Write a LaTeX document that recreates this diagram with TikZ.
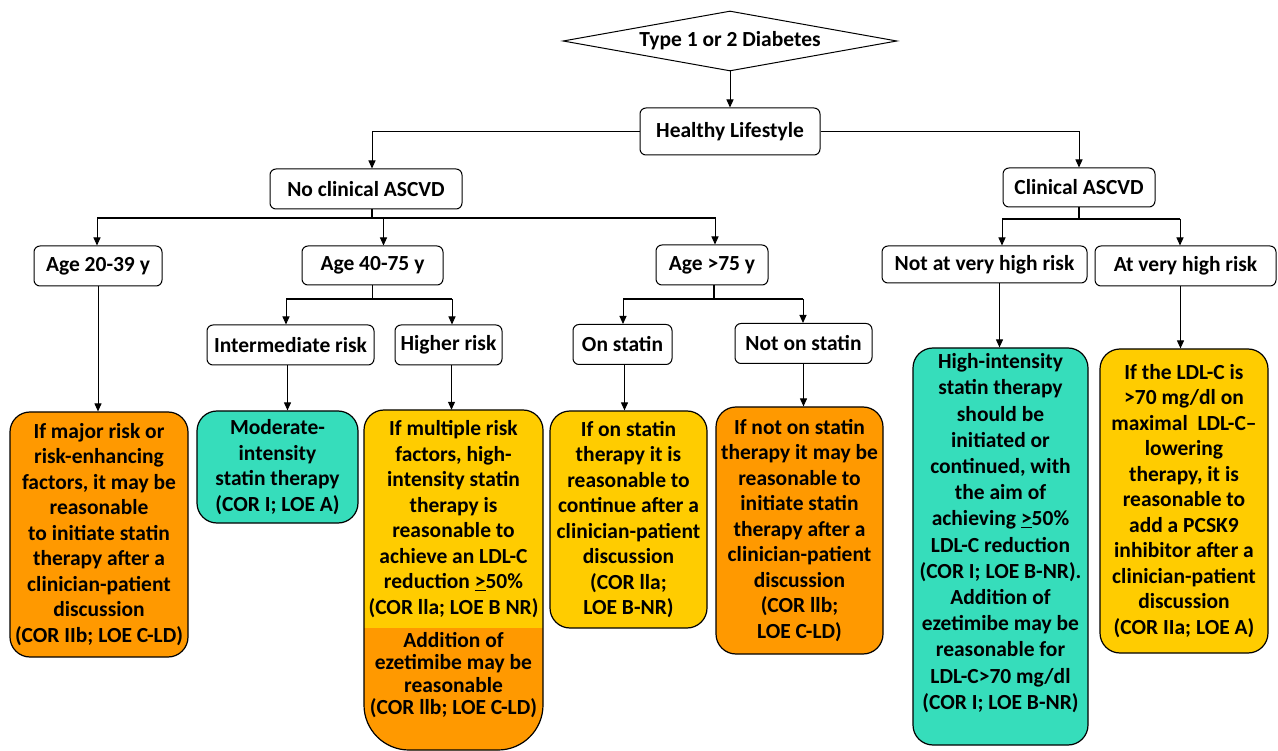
\documentclass[tikz,border=0pt]{standalone}
\usepackage{fontspec}
\setmainfont{Carlito}
\usetikzlibrary{shapes.geometric,arrows.meta}
\definecolor{orangebox}{RGB}{255,153,0}
\definecolor{yellowbox}{RGB}{255,204,0}
\definecolor{tealbox}{RGB}{54,221,187}

\begin{document}
\begin{tikzpicture}[x=1pt, y=-1pt,
  every node/.style={font=\fontsize{21.5}{25.5}\selectfont\bfseries},
  label box/.style={draw, rounded corners=6pt, line width=1pt, inner sep=0pt, minimum height=40pt},
  advice/.style={draw, rounded corners=20pt, line width=1.2pt, inner sep=0pt, align=center},
  arr/.style={-{Triangle[length=8pt,width=7pt]}, line width=1pt},
  bus/.style={line width=1.8pt}]

\useasboundingbox (0,0) rectangle (1278,751);

% Start
\node[draw, diamond, aspect=5.5, minimum width=334pt, minimum height=60pt, inner sep=0pt, line width=1pt] (diab) at (730,41) {Type 1 or 2 Diabetes};
\node[label box, minimum width=180pt, minimum height=47pt] (healthy) at (730,131.5) {Healthy Lifestyle};

% ASCVD split
\node[label box, minimum width=192pt] (noclin) at (366,189) {No clinical ASCVD};
\node[label box, minimum width=152pt, minimum height=39pt] (clin) at (1079,187.5) {Clinical ASCVD};

% Age groups and risk levels
\node[label box, minimum width=128pt] (agey) at (98,266) {Age 20-39 y};
\node[label box, minimum width=141pt, minimum height=39pt] (agem) at (372.5,265.5) {Age 40-75 y};
\node[label box, minimum width=112pt] (ageo) at (712,265) {Age >75 y};
\node[label box, minimum width=205pt, minimum height=37pt] (notvh) at (984.5,264.5) {Not at very high risk};
\node[label box, minimum width=181pt] (vh) at (1185.5,266) {At very high risk};

\node[label box, minimum width=167pt] (inter) at (290.5,345) {Intermediate risk};
\node[label box, minimum width=107pt] (higher) at (448.5,345) {Higher risk};
\node[label box, minimum width=99pt] (onst) at (622.5,344.5) {On statin};
\node[label box, minimum width=137pt] (notst) at (803.5,343.5) {Not on statin};

% Recommendations
\node[advice, fill=orangebox, minimum width=178pt, minimum height=245pt] (adv1) at (99,534.5)
  {If major risk or\\risk-enhancing\\factors, it may be\\reasonable\\to initiate statin\\therapy after a\\clinician-patient\\discussion\\(COR IIb; LOE C-LD)};
\node[advice, fill=tealbox, minimum width=161pt, minimum height=112pt] (adv2) at (277.5,467)
  {Moderate-\\intensity\\statin therapy\\(COR I; LOE A)};

% higher risk: two-part box
\fill[yellowbox] (364,430) arc[start angle=180, end angle=270, radius=20] -- (523,410)
  arc[start angle=270, end angle=360, radius=20] -- (543,705)
  arc[start angle=0, end angle=90, radius=45] -- (409,750)
  arc[start angle=90, end angle=180, radius=45] -- cycle;
\begin{scope}
\clip (364,430) arc[start angle=180, end angle=270, radius=20] -- (523,410)
  arc[start angle=270, end angle=360, radius=20] -- (543,705)
  arc[start angle=0, end angle=90, radius=45] -- (409,750)
  arc[start angle=90, end angle=180, radius=45] -- cycle;
\fill[orangebox] (364,628) rectangle (543,751);
\end{scope}
\draw[line width=1.2pt] (364,430) arc[start angle=180, end angle=270, radius=20] -- (523,410)
  arc[start angle=270, end angle=360, radius=20] -- (543,705)
  arc[start angle=0, end angle=90, radius=45] -- (409,750)
  arc[start angle=90, end angle=180, radius=45] -- cycle;
\node[align=center, minimum width=179pt, minimum height=218pt, inner sep=0pt] (adv3) at (453.5,519)
  {If multiple risk\\factors, high-\\intensity statin\\therapy is\\reasonable to\\achieve an LDL-C\\reduction \underline{>}50\%\\(COR lla; LOE B NR)};
\node[align=center, inner sep=0pt, font=\fontsize{21.5}{22.5}\selectfont\bfseries] (adv3b) at (453.5,675)
  {Addition of\\ezetimibe may be\\reasonable\\(COR llb; LOE C-LD)};

\node[advice, fill=yellowbox, minimum width=157pt, minimum height=217pt] (adv4) at (628.5,519.5)
  {If on statin\\therapy it is\\reasonable to\\continue after a\\clinician-patient\\discussion\\(COR lla;\\LOE B-NR)};
\node[advice, fill=orangebox, minimum width=167pt, minimum height=247pt] (adv5) at (799.5,530.5)
  {If not on statin\\therapy it may be\\reasonable to\\initiate statin\\therapy after a\\clinician-patient\\discussion\\(COR llb;\\LOE C-LD)};
\node[advice, fill=tealbox, minimum width=175pt, minimum height=397pt] (adv6) at (1000.5,546.5) {};
\node[align=center, inner sep=0pt, font=\fontsize{21.5}{26.2}\selectfont\bfseries] (adv6t) at (1000.5,533)
  {High-intensity\\statin therapy\\should be\\initiated or\\continued, with\\the aim of\\achieving \underline{>}50\%\\LDL-C reduction\\(COR I; LOE B-NR).\\Addition of\\ezetimibe may be\\reasonable for\\LDL-C>70 mg/dl\\(COR I; LOE B-NR)};
\node[advice, fill=yellowbox, minimum width=168pt, minimum height=304pt] (adv7) at (1184,501)
  {If the LDL-C is\\>70 mg/dl on\\maximal\ \ LDL-C--\\lowering\\therapy, it is\\reasonable to\\add a PCSK9\\inhibitor after a\\clinician-patient\\discussion\\(COR IIa; LOE A)};

% Arrows
\draw[arr] (diab.south) -- (healthy.north);
\draw[arr] (healthy.west) -| ([xshift=6pt]noclin.north);
\draw[arr] (healthy.east) -| (clin.north);

\coordinate (nbus) at (372,218);
\coordinate (nbusl) at (97,218);
\coordinate (nbusr) at (716,218);
\draw[bus] (noclin.south -| nbus) -- (nbus);
\draw[bus] (nbusl) -- (nbusr);
\draw[arr] (nbusl) -- (nbusl |- agey.north);
\draw[arr] ([xshift=11pt]agem.north |- nbus) -- ([xshift=11pt]agem.north);
\draw[arr] ([xshift=3pt]ageo.north |- nbus) -- ([xshift=3pt]ageo.north);

\coordinate (mbusl) at (286,299);
\coordinate (mbusr) at (452,299);
\draw[bus] (agem.south) -- (agem.south |- mbusl);
\draw[bus] (mbusl) -- (mbusr);
\draw[arr] (mbusl) -- (mbusl |- inter.north);
\draw[arr] (mbusr) -- (mbusr |- higher.north);

\coordinate (obusl) at (623,299);
\coordinate (obusr) at (803,299);
\draw[bus] ([xshift=2pt]ageo.south) -- ([xshift=2pt]ageo.south |- obusl);
\draw[bus] (obusl) -- (obusr);
\draw[arr] (obusl) -- (obusl |- onst.north);
\draw[arr] (obusr) -- (obusr |- notst.north);

\coordinate (cbusl) at (1002,219);
\coordinate (cbusr) at (1180,219);
\draw[bus] (clin.south) -- (clin.south |- cbusl);
\draw[bus] (cbusl) -- (cbusr);
\draw[arr] (cbusl) -- (cbusl |- notvh.north);
\draw[arr] (cbusr) -- (cbusr |- vh.north);

\draw[arr] (agey.south) -- (agey.south |- adv1.north);
\draw[arr] ([xshift=-3pt]inter.south) -- ([xshift=-3pt]inter.south |- adv2.north);
\draw[arr] ([xshift=3pt]higher.south) -- ([xshift=3pt]higher.south |- adv3.north);
\draw[arr] ([xshift=2pt]onst.south) -- ([xshift=2pt]onst.south |- adv4.north);
\draw[arr] (notst.south) -- (notst.south |- adv5.north);
\draw[arr] ([xshift=15pt]notvh.south) -- ([xshift=15pt]notvh.south |- adv6.north);
\draw[arr] ([xshift=-5pt]vh.south) -- ([xshift=-5pt]vh.south |- adv7.north);

\end{tikzpicture}
\end{document}
